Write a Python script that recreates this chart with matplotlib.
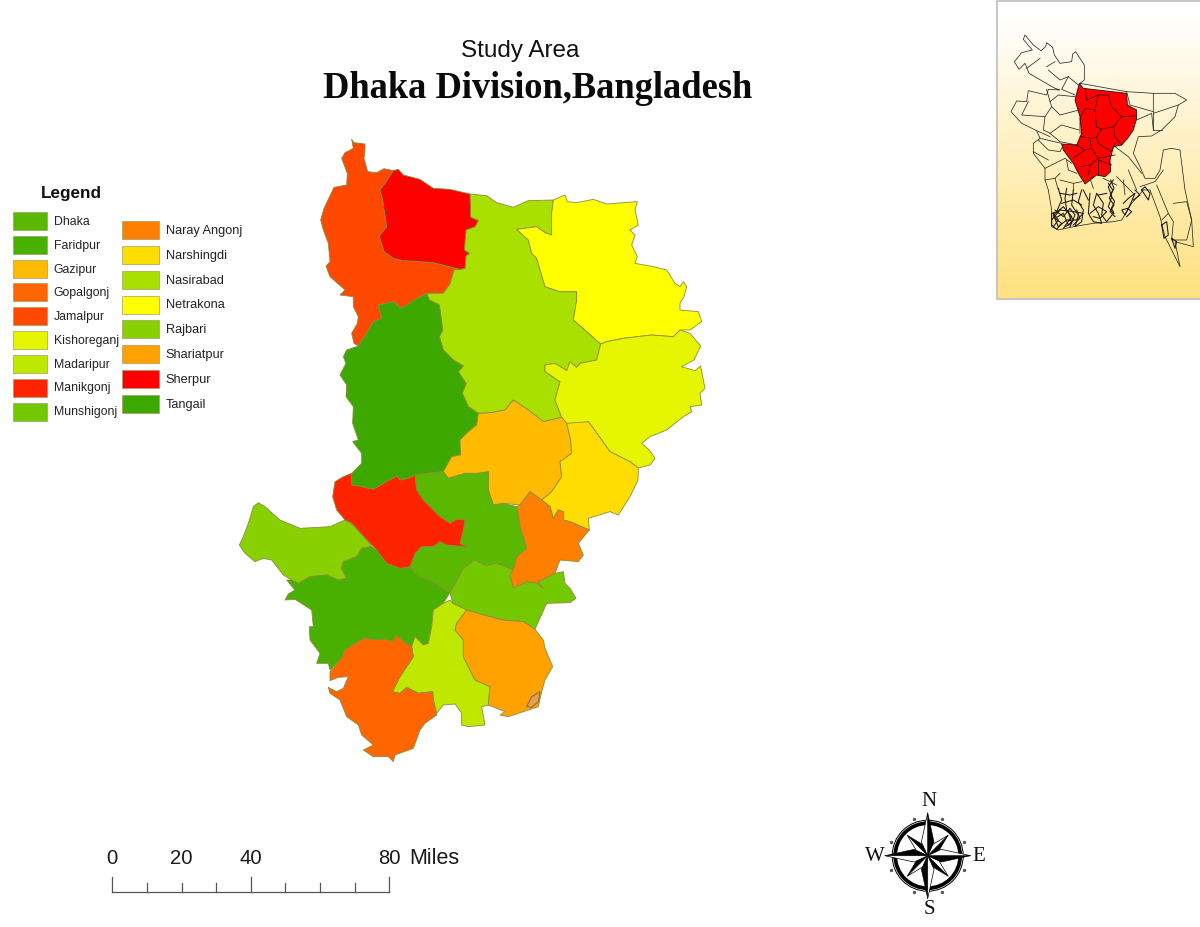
import numpy as np
import matplotlib
matplotlib.use("Agg")
import matplotlib.pyplot as plt
from matplotlib.patches import Polygon, Rectangle, Circle

# ---------- district outlines (map units; south block has its own y origin)
S = 930
def south(pts):
    return [(x, y + S) for x, y in pts]

jamalpur = [(365,28),(372,38),(405,42),(405,60),(402,85),(413,125),(440,128),(462,116),(490,122),(465,160),(450,180),(458,210),(470,290),(448,318),(462,365),(490,385),(520,392),(610,398),(690,418),(672,420),(660,462),(640,490),(590,490),(560,505),(515,535),(490,515),(445,525),(455,565),(430,575),(410,610),(385,648),(372,640),(365,610),(382,580),(385,560),(370,530),(370,500),(330,495),(345,480),(300,440),(288,408),(300,395),(295,340),(280,300),(272,270),(282,235),(312,172),(350,165),(352,130),(335,85),(345,68),(370,55)]
sherpur = [(490,122),(505,118),(520,135),(570,148),(610,175),(660,178),(720,192),(722,262),(745,272),(735,290),(708,300),(703,360),(718,370),(708,378),(705,415),(690,418),(610,398),(520,392),(490,385),(462,365),(448,318),(470,290),(458,210),(450,180),(465,160)]
nasirabad = [(720,192),(770,197),(800,218),(850,232),(895,212),(970,210),(965,250),(965,315),(945,308),(920,290),(860,298),(895,330),(905,370),(920,385),(945,470),(990,485),(1040,485),(1040,510),(1030,570),(1065,600),(1090,622),(1112,642),(1100,690),(1050,700),(1040,712),(1020,695),(1010,722),(975,700),(945,705),(945,725),(990,755),(975,810),(995,862),(940,875),(895,840),(850,810),(825,840),(785,848),(745,850),(715,830),(697,790),(708,760),(685,725),(700,708),(670,690),(640,660),(628,620),(638,600),(628,525),(598,510),(590,490),(640,490),(660,462),(672,420),(690,418),(705,415),(708,378),(718,370),(703,360),(708,300),(735,290),(745,272),(722,262)]
netrakona = [(970,210),(1005,195),(1012,215),(1040,218),(1090,208),(1130,222),(1222,215),(1215,240),(1225,285),(1200,300),(1215,315),(1205,345),(1222,380),(1215,400),(1270,410),(1310,420),(1335,460),(1350,470),(1360,455),(1370,470),(1362,500),(1350,520),(1350,540),(1405,545),(1415,575),(1380,600),(1350,600),(1330,620),(1265,615),(1180,625),(1130,635),(1112,642),(1090,622),(1065,600),(1030,570),(1040,510),(1040,485),(990,485),(945,470),(920,385),(905,370),(895,330),(860,298),(920,290),(945,308),(965,315),(965,250)]
kishoreganj = [(1112,642),(1130,635),(1180,625),(1265,615),(1330,620),(1350,600),(1380,610),(1412,648),(1392,690),(1355,710),(1395,722),(1412,708),(1420,750),(1425,775),(1410,790),(1415,825),(1380,830),(1385,845),(1360,860),(1310,900),(1260,920),(1235,940),(1258,960),(1275,985),(1260,1005),(1225,1014),(1200,995),(1140,965),(1115,930),(1098,906),(1075,875),(1035,885),(1010,880),(995,862),(975,810),(990,755),(945,725),(945,705),(975,700),(1010,722),(1020,695),(1040,712),(1050,700),(1100,690)]
tangail = [(590,490),(598,510),(628,525),(638,600),(628,620),(640,660),(670,690),(700,708),(685,725),(708,760),(697,790),(715,830),(745,850),(740,885),(715,905)] + south([(690,0),(692,45),(665,50),(640,95),(590,100),(555,105),(535,115),(510,120),(500,108),(470,125),(430,148),(395,140),(365,135),(365,100),(395,70),(395,40),(368,5)]) + [(385,930),(368,880),(370,830),(348,800),(350,765),(330,735),(348,700),(340,680),(350,660),(385,648),(410,610),(430,575),(455,565),(445,525),(490,515),(515,535),(560,505)]
gazipur = [(745,850),(785,848),(825,840),(850,810),(895,840),(940,875),(995,862),(1010,880),(1022,930)] + south([(1025,40),(990,65),(995,110),(965,155),(935,180),(900,155),(870,195),(820,190),(790,195),(775,150),(775,95),(745,100),(705,100),(655,115),(640,95),(665,50),(692,45),(690,0)]) + [(715,905),(740,885)]
narshingdi = south([(1010,-50),(1075,-55),(1098,-24),(1115,0),(1140,35),(1200,65),(1225,84),(1224,120),(1200,170),(1165,225),(1140,215),(1075,235),(1078,270),(1020,245),(1000,240),(1000,215),(985,210),(970,235),(960,200),(935,180),(965,155),(995,110),(990,65),(1025,40),(1022,0)])
naray_angonj = south([(900,155),(935,180),(960,200),(970,235),(985,210),(1000,215),(1000,240),(1020,245),(1078,270),(1045,310),(1060,345),(1045,365),(990,360),(975,400),(925,425),(940,445),(920,430),(890,425),(850,445),(840,405),(860,350),(890,325),(870,260),(860,200),(870,195)])
dhaka = south([(555,105),(590,100),(640,95),(655,115),(705,100),(745,100),(775,95),(775,150),(790,195),(820,190),(860,200),(870,260),(890,325),(860,350),(850,390),(800,370),(770,378),(735,360),(700,385),(660,458),(600,420),(565,410),(540,380),(555,340),(575,320),(610,320),(630,305),(650,315),(710,320),(690,310),(700,270),(705,240),(680,238),(660,250),(630,230),(580,180),(560,150)])
manikgonj = south([(365,100),(365,135),(395,140),(430,148),(470,125),(500,108),(510,120),(535,115),(555,105),(560,150),(580,180),(630,230),(660,250),(680,238),(705,240),(700,270),(690,310),(710,320),(650,315),(630,305),(610,320),(575,320),(555,340),(540,380),(510,385),(470,370),(440,330),(420,310),(365,250),(345,240),(320,210),(308,170),(315,125),(340,110)])
rajbari = south([(85,188),(105,200),(150,240),(210,265),(300,260),(345,240),(365,250),(420,310),(425,320),(395,325),(380,350),(340,365),(335,385),(350,415),(325,420),(290,405),(240,410),(205,430),(185,420),(160,405),(125,360),(100,355),(75,365),(45,340),(28,315),(40,290),(55,250),(70,200)])
faridpur = south([(425,320),(440,330),(470,370),(510,385),(540,380),(565,410),(600,420),(660,458),(640,490),(610,510),(605,560),(595,610),(580,615),(555,590),(545,620),(520,605),(498,585),(490,605),(460,598),(440,600),(400,595),(345,630),(335,655),(300,690),(295,670),(260,670),(270,640),(240,600),(238,560),(250,560),(245,510),(195,478),(165,480),(175,462),(195,450),(170,420),(185,420),(205,430),(240,410),(290,405),(325,420),(350,415),(335,385),(340,365),(380,350),(395,325)])
munshigonj = south([(660,458),(700,385),(735,360),(770,378),(800,370),(850,390),(840,405),(850,445),(890,425),(920,430),(940,445),(925,425),(975,400),(1000,395),(1005,430),(1020,445),(1038,475),(1020,488),(950,490),(915,568),(880,545),(820,540),(760,525),(710,510),(668,490)])
madaripur = south([(660,480),(668,490),(710,510),(680,550),(675,570),(700,600),(700,650),(735,720),(780,740),(775,795),(755,800),(765,855),(715,860),(695,855),(695,820),(675,792),(640,795),(620,820),(610,780),(608,755),(565,760),(530,742),(510,760),(487,755),(510,710),(550,650),(545,620),(555,590),(580,615),(595,610),(605,560),(610,510),(640,490)])
shariatpur = south([(710,510),(760,525),(820,540),(880,545),(915,568),(940,600),(945,625),(968,680),(945,720),(935,755),(925,800),(880,815),(835,830),(810,825),(825,815),(775,795),(780,740),(735,720),(700,650),(700,600),(675,570),(680,550)])
gopalgonj = south([(345,630),(400,595),(440,600),(460,598),(490,605),(498,585),(520,605),(545,620),(550,650),(510,710),(487,755),(510,760),(530,742),(565,760),(608,755),(610,780),(620,825),(585,850),(570,870),(550,925),(495,945),(490,965),(475,950),(430,950),(400,930),(430,915),(395,885),(385,855),(350,830),(330,780),(300,760),(295,742),(320,755),(340,745),(355,710),(325,712),(300,722),(300,695),(335,655)])
islands = [south([(890,800),(905,770),(930,755),(925,785),(905,802)])]

district_names_1 = ["Dhaka","Faridpur","Gazipur","Gopalgonj","Jamalpur","Kishoreganj","Madaripur","Manikgonj","Munshigonj"]
district_names_2 = ["Naray Angonj","Narshingdi","Nasirabad","Netrakona","Rajbari","Shariatpur","Sherpur","Tangail"]
district_colors = {"Dhaka":"#5AB800","Faridpur":"#4AB000","Gazipur":"#FFBB00","Gopalgonj":"#FF6600","Jamalpur":"#FF4800","Kishoreganj":"#E6F500","Madaripur":"#BFE800","Manikgonj":"#FF2400","Munshigonj":"#74C800","Naray Angonj":"#FF8000","Narshingdi":"#FFDD00","Nasirabad":"#AAE000","Netrakona":"#FFFF00","Rajbari":"#88D000","Shariatpur":"#FFA200","Sherpur":"#FF0000","Tangail":"#3CA800"}
district_shapes = {"Jamalpur":jamalpur,"Nasirabad":nasirabad,"Netrakona":netrakona,"Kishoreganj":kishoreganj,"Tangail":tangail,"Gazipur":gazipur,"Narshingdi":narshingdi,"Naray Angonj":naray_angonj,"Rajbari":rajbari,"Faridpur":faridpur,"Dhaka":dhaka,"Munshigonj":munshigonj,"Madaripur":madaripur,"Shariatpur":shariatpur,"Gopalgonj":gopalgonj,"Manikgonj":manikgonj,"Sherpur":sherpur}

scale_values = [0,10,20,30,40,50,60,70,80]
scale_labels = [0,20,40,80]

# ---------- inset lines; "north" lists have their origin at (45,90), "sth" lists at (150,510)
def north(pts):
    return [(x + 45, y + 90) for x, y in pts]
def sth(pts):
    return [(x + 150, y + 510) for x, y in pts]

bd_outline = (north([(225,160),(238,150),(238,105),(212,65),(203,72),(200,95),(165,100),(148,75),(143,52),(125,38),(122,50),(108,62),(85,45),(60,15),(55,28),(82,60),(50,68),(28,95),(42,118),(60,100),(72,130),(110,152),(150,175),(165,180),(130,178),(125,195),(70,182),(65,215),(35,213),(18,245),(50,280),(95,302),(105,325),(85,340),(85,370),(120,415)])
    + sth([(15,30),(25,60),(35,120),(35,170),(55,180),(100,170),(160,160),(220,155),(245,150),(275,100),(310,60),(330,60),(360,140),(375,200),(420,290),(405,215),(460,230),(455,150),(435,60),(420,-60),(395,-65),(370,-60),(360,0),(345,25),(315,25),(300,-10),(280,-50)])
    + north([(400,320),(440,318),(470,300),(510,260),(520,225),(545,210),(510,190),(445,190),(365,185),(225,160)]))
bd_inner = [north(l) for l in [[(105,85),(65,115)],[(125,110),(150,95)],[(130,120),(165,150),(190,140)],[(190,140),(170,178),(210,195)],[(190,140),(220,165)],[(125,178),(135,215),(160,195),(210,200)],[(135,215),(140,230),(120,260),(50,255),(70,215)],[(140,230),(165,255),(222,240)],[(120,260),(115,300),(135,310),(170,285),(222,300)],[(135,310),(165,335),(215,345)],[(95,302),(135,320)],[(105,325),(170,340)],[(100,330),(130,360),(165,365),(175,345)],[(85,365),(130,390)],[(120,415),(180,385),(200,400)],[(365,185),(375,225),(445,245)],[(445,190),(445,250),(520,225)],[(445,250),(445,300),(470,300)],[(395,270),(440,250),(445,300)],[(330,350),(370,380),(410,430)],[(185,390),(190,420),(215,430)]]]
bd_inner += [sth(l) for l in [[(15,30),(45,25),(60,10)],[(60,30),(100,40),(125,35)],[(150,25),(160,55)],[(190,25),(230,45)],[(230,20),(280,70)],[(265,0),(290,60)],[(250,30),(255,75)],[(300,50),(345,35),(370,0)],[(350,45),(385,130),(365,150)],[(385,130),(400,155),(395,210),(440,210),(455,150)],[(400,100),(440,95),(455,150)],[(45,25),(55,60)],[(100,40),(100,60)]]]
bd_delta = [sth(l) for l in [[(55,55),(65,90),(50,125),(35,130),(35,165),(50,178),(65,160),(45,145),(70,130),(85,165),(100,150),(80,120),(75,85),(80,55)],[(100,60),(95,105),(115,135),(105,170),(125,155),(130,120),(115,95),(125,60)],[(35,150),(60,120),(100,125),(130,130),(110,150),(80,150),(55,170),(40,135),(70,110),(95,140),(70,175)],[(45,120),(70,140),(90,115),(105,135),(90,170)],[(60,70),(90,75),(110,70)],[(65,100),(100,90),(125,105)],[(150,70),(145,130),(160,155),(185,160),(175,130),(160,105),(170,70),(190,100),(185,135),(200,155),(220,130),(205,110),(215,80),(205,50),(220,30)],[(205,40),(218,60),(208,85),(222,105),(210,125),(225,140)],[(212,30),(222,55),(212,75),(224,95),(214,115),(222,130)],[(150,130),(175,110),(200,125),(180,145),(160,140)],[(175,75),(200,70)],[(130,60),(145,90)],[(250,100),(265,85),(285,70),(270,105),(255,135),(245,120),(262,115),(275,125),(260,140)],[(285,60),(300,75),(280,90)],[(305,60),(325,90),(330,70),(315,50),(305,60)],[(365,165),(380,155),(385,195),(372,205),(365,165)],[(395,205),(410,215),(405,235),(395,205)],[(40,130),(55,150),(40,170)],[(85,125),(95,160),(75,170)],[(110,120),(120,145),(100,165)]]]
bd_red = [(268,250),(280,265),(410,280),(412,315),(440,330),(440,355),(430,390),(413,415),(395,435),(370,440),(360,480),(362,515),(345,530),(320,525),(285,552),(265,520),(250,490),(220,450),(215,432),(260,435),(275,400),(270,350),(255,300)]
bd_red_inner = [north(l) for l in [[(240,175),(245,210),(280,195),(310,195)],[(270,240),(280,195)],[(310,195),(320,230),(350,260),(390,258)],[(270,240),(240,235),(225,265),(225,310)],[(270,240),(275,290),(290,298),(325,290),(350,260)],[(325,290),(330,320),(350,345)],[(290,298),(275,320),(280,340),(320,365),(330,340)],[(225,320),(265,325),(275,320)],[(215,345),(240,360),(205,385)],[(240,360),(260,355),(280,385),(330,375)],[(260,355),(255,330)],[(280,385),(255,405),(225,410)],[(255,405),(250,435)],[(280,390),(280,435)],[(280,390),(320,405)]]]

W, H = 1200, 927
fig = plt.figure(figsize=(W/100, H/100), dpi=100, facecolor="white")
ax = fig.add_axes([0, 0, 1, 1])
ax.set_xlim(0, W); ax.set_ylim(H, 0); ax.axis("off")

def m2p(pts):
    a = np.array(pts, float)
    return np.c_[230 + a[:, 0]/3, 130 + a[:, 1]/3]

edge = "#8C8C3C"
for name, pts in district_shapes.items():
    ax.add_patch(Polygon(m2p(pts), closed=True, fc=district_colors[name], ec=edge, lw=0.6, joinstyle="round"))
for pts in islands:
    ax.add_patch(Polygon(m2p(pts), closed=True, fc="#E8A040", ec="#807050", lw=0.8))

# titles
ax.text(520.5, 57.3, "Study Area", family="Liberation Sans", fontsize=17.5, ha="center", va="baseline", color="#111111")
ax.text(537.5, 98, "Dhaka Division,Bangladesh", family="Liberation Serif", weight="bold", fontsize=26.3, ha="center", va="baseline", color="#0a0a0a")

# legend
ax.text(71.5, 193, "Legend", family="Liberation Sans", weight="bold", fontsize=12.3, ha="center", va="center", color="#111111")
col1_y = [221,244.7,268.7,292.3,316,340,364,387.7,411.7]
col2_y = [229.7,255,279.7,304.7,329.3,354.3,379,404]
for names, ys, x0, x1, tx, fs in ((district_names_1, col1_y, 12.7, 47.3, 53.8, 8.85), (district_names_2, col2_y, 121.7, 159, 165.7, 9.15)):
    for nm, y in zip(names, ys):
        ax.add_patch(Rectangle((x0, y-9), x1-x0, 18, fc=district_colors[nm], ec="#A0A060", lw=0.5))
        ax.text(tx, y+0.8, nm, family="Liberation Sans", fontsize=fs, ha="left", va="center", color="#222222")

# inset
def i2p(pts):
    a = np.array(pts, float)
    return np.c_[990 + a[:, 0]/3, a[:, 1]/3]
yy = np.linspace(0, 1, 256)
t = np.clip((yy - 0.04)/0.96, 0, 1)
c0 = np.array([1, 1, 1.0]); c1 = np.array([1, 0.885, 0.50])
grad = (c0[None, :] + (c1 - c0)[None, :]*t[:, None])[:, None, :]
ax.imshow(grad, extent=(996.5, 1200, 299, 0), aspect="auto", zorder=2)
ax.set_xlim(0, W); ax.set_ylim(H, 0)
ax.add_patch(Rectangle((996.5, 0.5), 204, 298.5, fc="none", ec="#BEBEBE", lw=1.2, zorder=3))
ax.add_patch(Polygon(i2p(bd_red), closed=True, fc="#FF0000", ec="#201010", lw=0.6, zorder=3))
for line in [bd_outline] + bd_inner:
    p = i2p(line); ax.plot(p[:, 0], p[:, 1], color="#2a2a2a", lw=0.55, zorder=4)
for line in bd_red_inner:
    p = i2p(line); ax.plot(p[:, 0], p[:, 1], color="#400000", lw=0.55, zorder=4)
for line in bd_delta:
    p = i2p(line); ax.plot(p[:, 0], p[:, 1], color="#181818", lw=0.75, zorder=4)

# scale bar
sx = lambda v: 112.3 + v*(389.3-112.3)/80
ax.plot([sx(0), sx(80)], [892.3, 892.3], color="#555555", lw=0.9)
for v in scale_values:
    top = 877.3 if v in (0, 40, 80) else 882.7
    ax.plot([sx(v), sx(v)], [top, 892.3], color="#555555", lw=0.9)
for v in scale_labels:
    ax.text(sx(v), 859, str(v), family="Liberation Sans", fontsize=14.6, ha="center", va="center", color="#1a1a1a")
ax.text(409, 859, "Miles", family="Liberation Sans", fontsize=15.5, ha="left", va="center", color="#1a1a1a")

# north arrow
cx, cy = 927.7, 855.7
ax.add_patch(Circle((cx, cy), 35.5, fc="white", ec="black", lw=0.7, zorder=5))
ax.add_patch(Circle((cx, cy), 32.5, fc="white", ec="black", lw=2.7, zorder=5))
d = lambda a, r: (cx + r*np.sin(a), cy - r*np.cos(a))
for k in (1, 3, 5, 7, 0, 2, 4, 6):
    ang = np.deg2rad(45*k)
    R, r0, spread = (43, 15, np.deg2rad(25)) if k % 2 == 0 else (29, 12, np.deg2rad(22))
    tip = d(ang, R); b1 = d(ang + spread, r0); b2 = d(ang - spread, r0)
    z = 6 if k % 2 == 0 else 5.5
    ax.add_patch(Polygon([(cx, cy), tip, b1], closed=True, fc="black", ec="black", lw=0.4, zorder=z))
    ax.add_patch(Polygon([(cx, cy), tip, b2], closed=True, fc="white", ec="black", lw=0.5, zorder=z))
for a_deg in (21, 69, 111, 159, 201, 249, 291, 339):
    a = np.deg2rad(a_deg)
    ax.plot(*d(a, 39), "o", ms=1.4, color="#555555", zorder=5)
for s, x, y in (("N", 929, 802), ("S", 929, 910), ("W", 875, 856.5), ("E", 979, 856.5)):
    ax.text(x, y, s, family="Liberation Serif", fontsize=15, ha="center", va="center", color="#111111", zorder=7)

fig.savefig("out.png", dpi=100, facecolor="white")
